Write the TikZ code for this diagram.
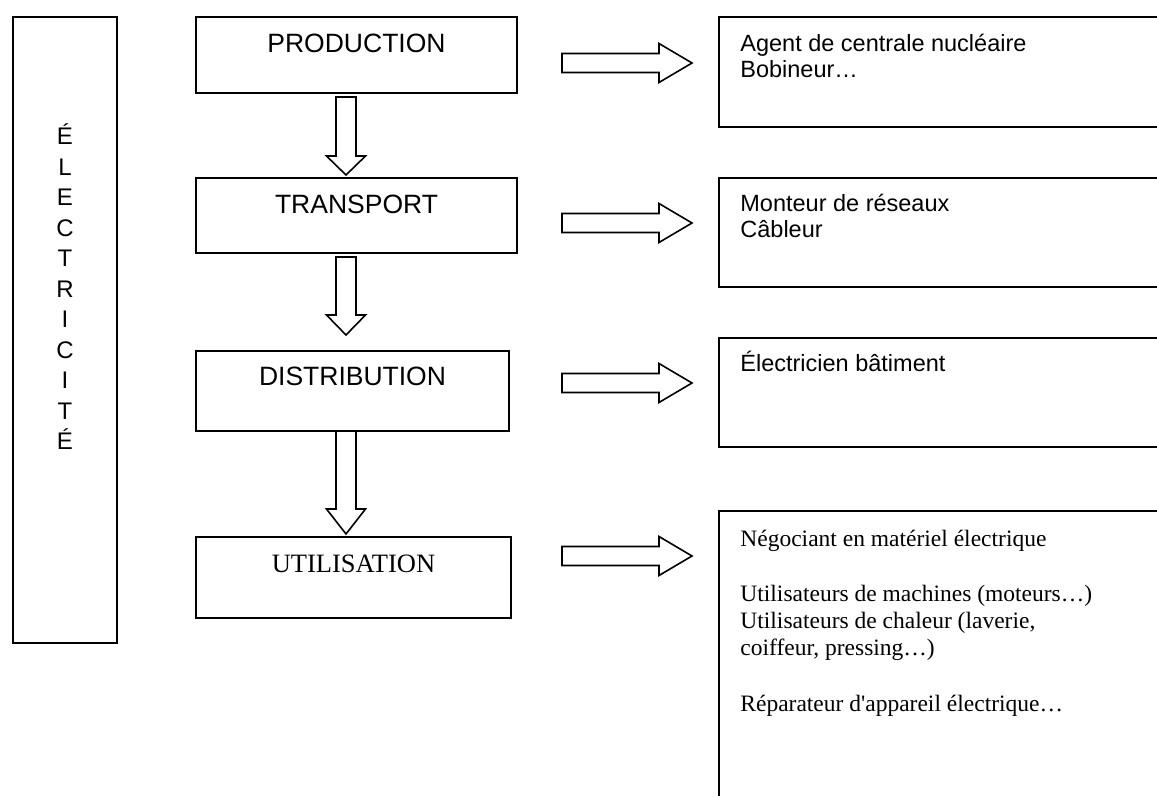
\documentclass[tikz,border=0pt]{standalone}
\usepackage{fontspec}
\setmainfont{Liberation Serif}
\newfontfamily\arialf{Liberation Sans}
\usetikzlibrary{calc}
\tikzset{
  box/.style={draw, line width=1pt, inner sep=0pt, outer sep=0pt, anchor=north west},
  lab/.style={inner sep=0pt, anchor=base, font=\arialf\fontsize{13.25}{15}\selectfont},
  labtimes/.style={inner sep=0pt, anchor=base, font=\rmfamily\fontsize{13.25}{15}\selectfont},
  letter/.style={inner sep=0pt, anchor=base, font=\arialf\fontsize{12}{14}\selectfont},
  blk/.style={draw, line width=0.8pt, line join=miter, fill=white},
  jobtxt/.style={inner sep=0pt, anchor=base west, font=\arialf\fontsize{11.75}{13}\selectfont},
  jobtimes/.style={inner sep=0pt, anchor=base west, font=\rmfamily\fontsize{11.75}{13.75}\selectfont},
}
\begin{document}
\begin{tikzpicture}[x=0.5pt, y=-0.5pt]
\useasboundingbox (0,0) rectangle (1157,796);
\clip (0,0) rectangle (1157,796);

% left vertical box
\node[box, minimum width=52pt, minimum height=313pt] (elec) at (13,17) {};
\foreach \c [count=\i from 0] in {É,L,E,C,T,R,I,C,I,T,É}
  \node[letter] (e\i) at (65,{145+30.5*\i}) {\c};

% main boxes
\node[box, minimum width=160.5pt, minimum height=38pt] (prod) at (196,17) {};
\node[box, minimum width=160.5pt, minimum height=37.5pt] (trans) at (196,178) {};
\node[box, minimum width=156.5pt, minimum height=40pt] (dist) at (196,351) {};
\node[box, minimum width=157.5pt, minimum height=40.5pt] (util) at (196,537) {};

\node[lab] (prodT) at ($(prod.north)+(0,36)$) {PRODUCTION};
\node[lab] (transT) at ($(trans.north)+(0,36)$) {TRANSPORT};
\node[lab] (distT) at ($(dist.north)+(0,35)$) {DISTRIBUTION};
\node[labtimes] (utilT) at ($(util.north)+(0,36)$) {UTILISATION};

% right boxes
\node[box, minimum width=250pt, minimum height=55pt] (job1) at (719,17) {};
\node[box, minimum width=250pt, minimum height=54.5pt] (job2) at (719,178) {};
\node[box, minimum width=250pt, minimum height=54.5pt] (job3) at (719,338) {};
\node[box, minimum width=250pt, minimum height=160pt] (job4) at (719,511) {};

\node[jobtxt] (job1T) at ($(job1.north west)+(21,35)$)
  {\begin{tabular}[t]{@{}l@{}}Agent de centrale nucléaire\\Bobineur…\end{tabular}};
\node[jobtxt] (job2T) at ($(job2.north west)+(21,34)$)
  {\begin{tabular}[t]{@{}l@{}}Monteur de réseaux\\Câbleur\end{tabular}};
\node[jobtxt] (job3T) at ($(job3.north west)+(21,34)$) {Électricien bâtiment};
\node[jobtimes] (job4T) at ($(job4.north west)+(21,35)$)
  {\begin{tabular}[t]{@{}l@{}}Négociant en matériel électrique\\ \\
   Utilisateurs de machines (moteurs…)\\
   Utilisateurs de chaleur (laverie,\\
   coiffeur, pressing…)\\ \\
   Réparateur d\textquotesingle appareil électrique…\end{tabular}};

% down block arrows
\coordinate (d1) at ($(prod.south)+(-10.5,4)$);
\coordinate (d2) at ($(trans.south)+(-10.5,4)$);
\coordinate (d3) at ($(dist.south -| prod.south)+(-10.5,0)$);
\draw[blk] (d1) ++(-10,0) -- ++(0,59) -- ++(-9.5,0) -- ++(19.5,19) -- ++(19.5,-19) -- ++(-9.5,0) -- ++(0,-59) -- cycle;
\draw[blk] (d2) ++(-10,0) -- ++(0,58) -- ++(-9.5,0) -- ++(19.5,20) -- ++(19.5,-20) -- ++(-9.5,0) -- ++(0,-58) -- cycle;
\draw[blk] (d3) ++(-10,0) -- ++(0,78) -- ++(-9.5,0) -- ++(19.5,25) -- ++(19.5,-25) -- ++(-9.5,0) -- ++(0,-78) -- cycle;

% right block arrows
\coordinate (r1) at ($(prod.east)+(45,8)$);
\coordinate (r2) at ($(trans.east)+(45,7.5)$);
\coordinate (r3) at (562,383);
\coordinate (r4) at (562,556);
\foreach \r in {r1,r2,r3,r4}
  \draw[blk] (\r) ++(0,-9.5) -- ++(97,0) -- ++(0,-10) -- ++(33,19.5) -- ++(-33,19.5) -- ++(0,-10) -- ++(-97,0) -- cycle;
\end{tikzpicture}
\end{document}
